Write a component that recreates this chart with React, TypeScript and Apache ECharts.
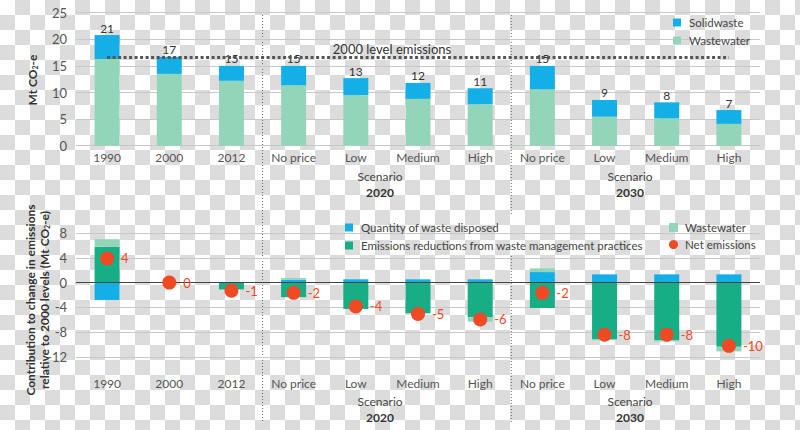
import React, { useEffect, useRef } from "react";
import * as echarts from "echarts";

// ---------- data ----------
const categories = ["1990", "2000", "2012", "No price", "Low", "Medium", "High", "No price", "Low", "Medium", "High"];

// top chart (Mt CO2-e)
const wastewaterTop = [16.3, 13.5, 12.2, 11.35, 9.5, 8.8, 7.8, 10.6, 5.45, 5.15, 4.1];
const solidwasteTop = [4.5, 3.2, 2.8, 3.65, 3.2, 3.0, 3.0, 4.4, 3.15, 3.0, 2.6];
const totalLabels = ["21", "17", "15", "15", "13", "12", "11", "15", "9", "8", "7"];
const level2000 = 16.7;

// bottom chart (change relative to 2000)
const quantityDisposed = [-2.8, 0, 0, 0.45, 0.53, 0.53, 0.53, 1.7, 1.33, 1.33, 1.33];
const reductions = [5.8, 0, -1.1, -2.35, -4.25, -4.9, -5.6, -4.1, -9.1, -9.25, -10.35];
const wastewaterChange = [1.2, 0, 0, 0.3, 0, -0.1, -0.7, 0.6, -0.2, -0.25, -0.75];
const netEmissions = [3.9, 0, -1.3, -1.65, -3.85, -5.05, -5.95, -1.65, -8.4, -8.4, -10.2];
const netLabels = ["4", "0", "-1", "-2", "-4", "-5", "-6", "-2", "-8", "-8", "-10"];

const FONT = "Lato, 'Open Sans', sans-serif";
const BLUE = "#14afe6";
const LIGHT = "#93d5b9";
const GREEN = "#17ad85";
const RED = "#ef4a23";
const TXT = "#444";

export default function App() {
  const ref = useRef<HTMLDivElement>(null);
  useEffect(() => {
    if (!ref.current) return;
    const chart = echarts.init(ref.current, null, { renderer: "svg" });
    const gl = 76, gw = 684;
    const band = gw / categories.length;
    const sep1 = gl + 3 * band;
    const sep2 = gl + 7 * band;
    const dotted = { stroke: "#666", lineWidth: 1, lineDash: [1, 2] };
    const txt = (text: string, x: number, y: number, extra: any = {}) => ({
      type: "text",
      x,
      y,
      style: { text, fontFamily: FONT, fontSize: 12, fill: TXT, align: "center", verticalAlign: "middle", ...extra },
    });
    const legendText = { fontSize: 11.5, color: TXT, fontFamily: FONT, lineHeight: 13, padding: [0, 0, 0, 3] };

    chart.setOption({
      animation: false,
      textStyle: { fontFamily: FONT },
      grid: [
        { left: gl, width: gw, top: 12.7, height: 133 },
        { left: gl, width: gw, top: 233, height: 124 },
      ],
      xAxis: [
        {
          gridIndex: 0, type: "category", data: categories,
          axisLine: { show: false }, axisTick: { show: false },
          axisLabel: { margin: 6, color: "#555", fontSize: 12, fontFamily: FONT, interval: 0 },
        },
        {
          gridIndex: 1, type: "category", data: categories,
          axisLine: { show: false, onZero: false }, axisTick: { show: false },
          axisLabel: { margin: 20, color: "#555", fontSize: 12, fontFamily: FONT, interval: 0 },
        },
      ],
      yAxis: [
        {
          gridIndex: 0, min: 0, max: 25, interval: 5,
          axisLine: { show: false }, axisTick: { show: false },
          axisLabel: { margin: 9, color: "#555", fontSize: 13, fontFamily: FONT },
          splitLine: { lineStyle: { color: "#c8c8c8" } },
        },
        {
          gridIndex: 1, min: -12, max: 8, interval: 4,
          axisLine: { show: false }, axisTick: { show: false },
          axisLabel: { margin: 9, color: "#555", fontSize: 13, fontFamily: FONT },
          splitLine: { lineStyle: { color: "#c8c8c8" } },
        },
      ],
      legend: [
        {
          data: ["Solidwaste", "Wastewater"], orient: "vertical", left: 668, top: 11,
          itemWidth: 8, itemHeight: 8, itemGap: 5, icon: "rect", textStyle: legendText,
        },
        {
          data: ["Quantity of waste disposed", "Emissions reductions from waste management practices"],
          orient: "vertical", left: 340, top: 216,
          itemWidth: 8, itemHeight: 8, itemGap: 5, icon: "rect", textStyle: legendText,
        },
        {
          data: ["Wastewater", { name: "Net emissions", icon: "circle" }],
          orient: "vertical", left: 664, top: 216,
          itemWidth: 9, itemHeight: 9, itemGap: 4, icon: "rect",
          textStyle: { ...legendText, padding: [0, 0, 0, 2] },
        },
      ],
      series: [
        {
          name: "Wastewater", type: "bar", stack: "top", xAxisIndex: 0, yAxisIndex: 0,
          barWidth: 25, data: wastewaterTop, itemStyle: { color: LIGHT },
        },
        {
          name: "Solidwaste", type: "bar", stack: "top", xAxisIndex: 0, yAxisIndex: 0,
          barWidth: 25, data: solidwasteTop, itemStyle: { color: BLUE },
          label: {
            show: true, position: "top", distance: 1, color: "#333", fontSize: 12, fontFamily: FONT,
            formatter: (p: any) => totalLabels[p.dataIndex],
          },
          markLine: {
            silent: true, symbol: "none",
            lineStyle: { type: [3, 2.5], width: 3, color: "#555" },
            label: { show: false },
            data: [[{ coord: [0, level2000] }, { coord: [categories.length - 1, level2000] }]],
          },
        },
        {
          name: "Quantity of waste disposed", type: "bar", stack: "b", xAxisIndex: 1, yAxisIndex: 1,
          barWidth: 25, data: quantityDisposed, itemStyle: { color: BLUE },
        },
        {
          name: "Emissions reductions from waste management practices", type: "bar", stack: "b",
          xAxisIndex: 1, yAxisIndex: 1, barWidth: 25, data: reductions, itemStyle: { color: GREEN },
        },
        {
          name: "Wastewater", type: "bar", stack: "b", xAxisIndex: 1, yAxisIndex: 1,
          barWidth: 25, data: wastewaterChange, itemStyle: { color: LIGHT },
          markLine: {
            silent: true, symbol: "none",
            lineStyle: { type: "solid", width: 1, color: "#444" },
            label: { show: false },
            data: [{ yAxis: 0 }],
          },
        },
        {
          name: "Net emissions", type: "scatter", xAxisIndex: 1, yAxisIndex: 1,
          symbolSize: 14, data: netEmissions, itemStyle: { color: RED, opacity: 1 }, z: 5,
          label: {
            show: true, position: "right", distance: 7, color: RED, fontSize: 13, fontFamily: FONT,
            formatter: (p: any) => netLabels[p.dataIndex],
          },
        },
      ],
      graphic: [
        { type: "line", shape: { x1: sep1, y1: 12, x2: sep1, y2: 422 }, style: dotted, silent: true },
        { type: "line", shape: { x1: sep2, y1: 12, x2: sep2, y2: 214 }, style: dotted, silent: true },
        { type: "line", shape: { x1: sep2, y1: 256, x2: sep2, y2: 422 }, style: dotted, silent: true },
        txt("2000 level emissions", 392, 49, { fontSize: 13, fill: "#333" }),
        txt("Scenario", 380, 176),
        txt("2020", 380, 192, { fontWeight: "bold", fill: "#333" }),
        txt("Scenario", 630, 176),
        txt("2030", 630, 192, { fontWeight: "bold", fill: "#333" }),
        txt("Scenario", 380, 401),
        txt("2020", 380, 417, { fontWeight: "bold", fill: "#333" }),
        txt("Scenario", 630, 401),
        txt("2030", 630, 417, { fontWeight: "bold", fill: "#333" }),
        {
          type: "text", x: 32, y: 80, rotation: Math.PI / 2,
          style: {
            text: "Mt CO{s|2}-e", fontFamily: FONT, fontSize: 12, fontWeight: "bold", fill: "#333",
            align: "center", verticalAlign: "middle",
            rich: { s: { fontSize: 7, fontWeight: "bold", fill: "#333", padding: [6, 0, 0, 0], fontFamily: FONT } },
          },
        },
        {
          type: "text", x: 30, y: 300, rotation: Math.PI / 2,
          style: {
            text: "Contribution to change in emissions", fontFamily: FONT, fontSize: 12, fontWeight: "bold",
            fill: "#333", align: "center", verticalAlign: "middle",
          },
        },
        {
          type: "text", x: 44, y: 300, rotation: Math.PI / 2,
          style: {
            text: "relative to 2000 levels (Mt CO{s|2}-e)", fontFamily: FONT, fontSize: 12, fontWeight: "bold",
            fill: "#333", align: "center", verticalAlign: "middle",
            rich: { s: { fontSize: 7, fontWeight: "bold", fill: "#333", padding: [6, 0, 0, 0], fontFamily: FONT } },
          },
        },
      ],
    });
    return () => chart.dispose();
  }, []);

  return (
    <div
      style={{
        position: "fixed", left: 0, top: 0, width: 800, height: 430,
        backgroundColor: "#fff",
        backgroundImage: "conic-gradient(#dcdcdc 25%, #ffffff 0 50%, #dcdcdc 0 75%, #ffffff 0)",
        backgroundSize: "30px 30px",
      }}
    >
      <div ref={ref} style={{ width: 800, height: 430 }} />
    </div>
  );
}
